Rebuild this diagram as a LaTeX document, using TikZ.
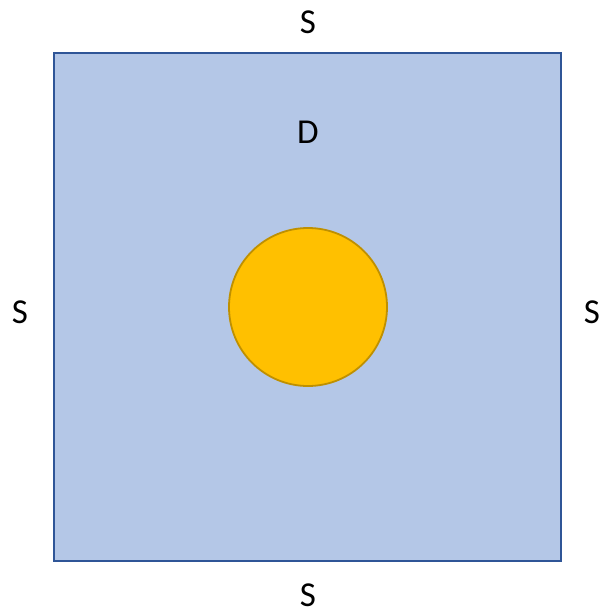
\documentclass[tikz,border=0pt]{standalone}
\usepackage{fontspec}
\setmainfont{Carlito}
\definecolor{sqfill}{HTML}{B4C7E7}
\definecolor{sqdraw}{HTML}{2F5597}
\definecolor{cfill}{HTML}{FFC000}
\definecolor{cdraw}{HTML}{BF9000}
\begin{document}
\begin{tikzpicture}[x=1pt,y=-1pt,
  lbl/.style={font=\fontsize{35}{40}\selectfont, inner sep=0pt, anchor=center}]
\useasboundingbox (0,0) rectangle (603,612);
\node[draw=sqdraw, fill=sqfill, line width=1.8pt, minimum width=507pt, minimum height=508pt, inner sep=0pt] (sq) at (307.5,307) {};
\node[circle, draw=cdraw, fill=cfill, line width=1.8pt, minimum size=158pt, inner sep=0pt] (c) at (308,307) {};
\node[lbl] (st) at (308,22) {S};
\node[lbl] (sb) at (308,595) {S};
\node[lbl] (sl) at (20,312) {S};
\node[lbl] (sr) at (592,312) {S};
\node[lbl] (d) at (308,132) {D};
\end{tikzpicture}
\end{document}
